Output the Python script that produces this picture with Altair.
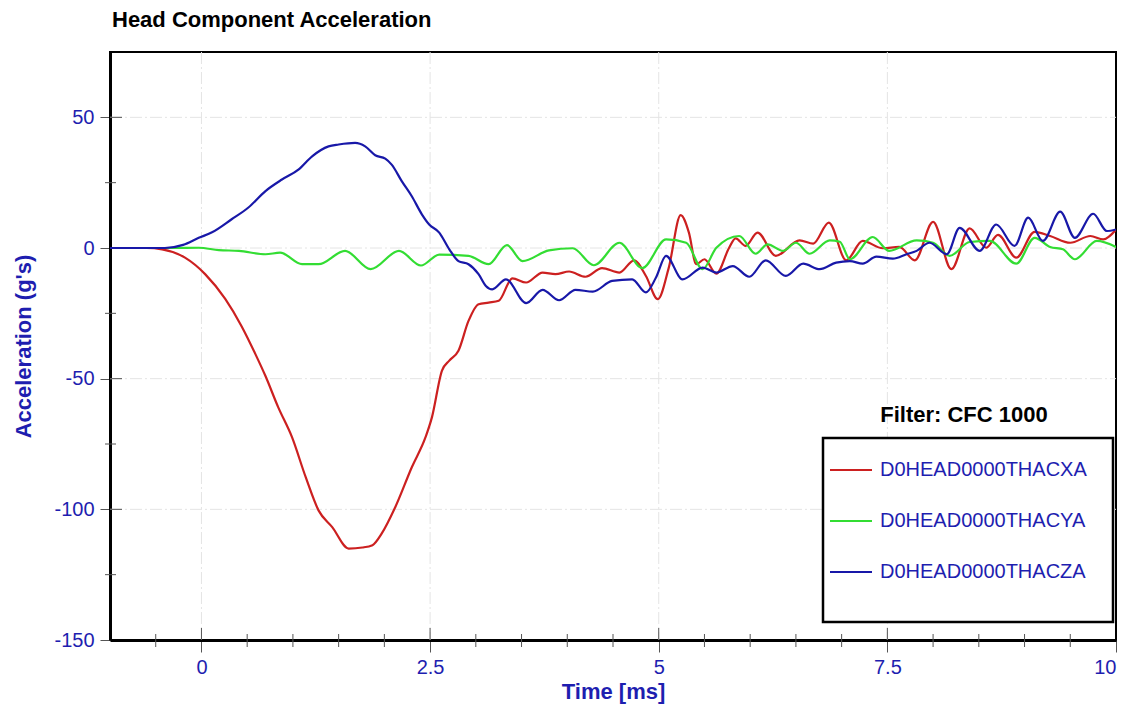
import altair as alt
import pandas as pd

# ---------------- data ----------------
SERIES = ["D0HEAD0000THACXA", "D0HEAD0000THACYA", "D0HEAD0000THACZA"]
COLORS = ["#cc2020", "#33dd33", "#1818a8"]

x_time = [-1.0, -0.6, -0.43, -0.18, 0.04, 0.26, 0.44, 0.59, 0.70, 0.84, 0.99, 1.14,
          1.28, 1.43, 1.61, 1.76, 1.87, 1.97, 2.12, 2.30, 2.45, 2.52, 2.63, 2.71,
          2.81, 2.92, 3.03, 3.14, 3.25, 3.40, 3.55, 3.73, 3.87, 4.02, 4.20, 4.38,
          4.57, 4.73, 4.86, 4.99, 5.11, 5.24, 5.33, 5.41, 5.50, 5.63, 5.77, 5.84,
          5.95, 6.08, 6.28, 6.54, 6.69, 6.86, 7.05, 7.23, 7.45, 7.63, 7.80, 8.00,
          8.20, 8.40, 8.58, 8.71, 8.91, 9.11, 9.28, 9.50, 9.72, 9.86, 10.0]
x_acc = [0, 0, -0.5, -3.7, -10, -19.5, -30, -40.6, -49.0, -61, -72.4, -87.7,
         -100.4, -106.8, -115, -114.6, -113.7, -109.3, -99.1, -83.9, -72.4, -64.8, -46.9, -43.1,
         -39.3, -27.9, -21.5, -20.9, -20.2, -11.6, -13.2, -9.4, -10, -9, -11, -7.7,
         -9.4, -4.7, -10.7, -19.6, -7.5, 12.6, 5.9, -6.2, -4.3, -9.8, 0.1, 3.7,
         0.8, 5.9, -3, 2.9, 1.7, 9.7, -4.7, 2.7, -0.1, 0.4, -4.7, 10,
         -8.1, 7.5, 0.1, 5, -3.7, 6.2, 4.6, 2, 4.6, 3.3, 7.1]

y_time = [-1.0, -0.3, -0.03, 0.19, 0.41, 0.70, 0.86, 1.10, 1.28, 1.57, 1.85, 2.16,
          2.40, 2.60, 2.92, 3.14, 3.34, 3.51, 3.80, 4.06, 4.29, 4.57, 4.82, 5.08,
          5.30, 5.48, 5.63, 5.88, 6.06, 6.19, 6.36, 6.50, 6.65, 6.87, 6.98, 7.09,
          7.34, 7.52, 7.82, 8.00, 8.18, 8.40, 8.62, 8.91, 9.11, 9.28, 9.42, 9.55,
          9.79, 10.0]
y_acc = [0, 0, 0.1, -0.8, -1.1, -2.4, -1.8, -6.2, -6.2, -1.1, -8.1, -1.1,
         -6.7, -2.5, -3, -6.2, 1.1, -5, -0.9, -0.1, -6.6, 2, -7.7, 3.3,
         2, -8.1, 0.1, 4.6, -2.2, 1.4, -1.1, 2, -2.2, 2.9, 2.4, -4.3,
         4.2, -1.1, 2.9, 2, -3, 2.3, 2.7, -6, 3.9, 0.4, -0.5, -4.3,
         2.7, 0.4]

z_time = [-1.0, -0.4, -0.2, -0.03, 0.11, 0.33, 0.51, 0.70, 0.88, 1.06, 1.21, 1.39,
          1.50, 1.68, 1.79, 1.90, 2.01, 2.08, 2.19, 2.30, 2.41, 2.49, 2.60, 2.71,
          2.81, 2.92, 3.03, 3.11, 3.18, 3.33, 3.55, 3.73, 3.91, 4.09, 4.28, 4.49,
          4.71, 4.86, 4.97, 5.08, 5.26, 5.48, 5.63, 5.81, 5.99, 6.17, 6.39, 6.58,
          6.76, 6.94, 7.09, 7.23, 7.38, 7.56, 7.71, 7.82, 7.96, 8.15, 8.29, 8.51,
          8.69, 8.89, 9.04, 9.20, 9.39, 9.55, 9.75, 9.90, 10.0]
z_acc = [0, 0, 1.2, 3.9, 5.9, 11, 15.4, 21.8, 26.2, 30, 35.1, 38.9,
         39.6, 40.2, 38.9, 35.5, 34.2, 31.9, 25.6, 19.8, 12.9, 9.0, 5.9, -0.5,
         -5, -6.2, -10, -14.5, -15.8, -12, -21.1, -16, -20, -16, -16.7, -12.6,
         -12, -17, -11.3, -3, -12, -7.5, -9.4, -6.9, -11, -4.7, -10.7, -6,
         -8.1, -5.6, -5, -6, -3.3, -4.1, -2.4, -1.1, 2, -2.4, 7.7, -1.1,
         9, 0.8, 11.6, 2.7, 13.9, 3.9, 13.1, 6.5, 7.1]

x_major_ticks = [0, 2.5, 5, 7.5, 10]
x_minor_ticks = [-0.5, 0.5, 1.0, 1.5, 2.0, 3.0, 3.5, 4.0, 4.5, 5.5, 6.0, 6.5,
                 7.0, 8.0, 8.5, 9.0, 9.5]
y_major_ticks = [50, 0, -50, -100, -150]
y_minor_ticks = [25, -25, -75, -125]
x_grid = [0, 2.5, 5, 7.5]
y_grid = [50, 0, -50, -100]

TITLE = "Head Component Acceleration"
X_TITLE = "Time [ms]"
Y_TITLE = "Acceleration (g's)"
FILTER_TEXT = "Filter: CFC 1000"

# ---------------- build tables ----------------
rows = []
for name, ts, vs in zip(SERIES, [x_time, y_time, z_time], [x_acc, y_acc, z_acc]):
    for i, (t, v) in enumerate(zip(ts, vs)):
        rows.append({"series": name, "time": t, "acc": v, "order": i})
df = pd.DataFrame(rows)

W, H = 1006, 588
FONT = "Liberation Sans"
TXT_BLUE = "#1e1eb0"
GRID = "#e4e4e4"

xscale = alt.Scale(domain=[-1, 10], nice=False, zero=False)
yscale = alt.Scale(domain=[-150, 75], nice=False, zero=False)

xgrid = alt.Chart(pd.DataFrame({"v": x_grid})).mark_rule(
    color=GRID, strokeWidth=1, strokeDash=[12, 3, 2, 3]).encode(
    x=alt.X("v:Q", scale=xscale), y=alt.value(0), y2=alt.value(H))
ygrid = alt.Chart(pd.DataFrame({"v": y_grid})).mark_rule(
    color=GRID, strokeWidth=1, strokeDash=[12, 3, 2, 3]).encode(
    y=alt.Y("v:Q", scale=yscale), x=alt.value(0), x2=alt.value(W))

lines = alt.Chart(df).mark_line(strokeWidth=2.2, clip=True, interpolate="monotone").encode(
    x=alt.X("time:Q", scale=xscale,
            axis=alt.Axis(title=X_TITLE, values=x_major_ticks, labelExpr="'' + datum.value",
                          tickSize=12, labelPadding=5, titlePadding=4, grid=False)),
    y=alt.Y("acc:Q", scale=yscale,
            axis=alt.Axis(title=Y_TITLE, values=y_major_ticks, labelExpr="'' + datum.value",
                          tickSize=10, labelPadding=6, titlePadding=18, grid=False)),
    color=alt.Color("series:N",
                    scale=alt.Scale(domain=SERIES, range=COLORS),
                    legend=alt.Legend(title=None, orient="none", legendX=719, legendY=396,
                                      symbolType="stroke", symbolSize=1764,
                                      symbolStrokeWidth=2, labelFontSize=20,
                                      labelColor=TXT_BLUE, labelFont=FONT,
                                      labelOffset=7, rowPadding=19, padding=0,
                                      labelLimit=400)),
    order="order:Q",
    detail="series:N",
)

box = alt.Chart(alt.Data(values=[{"k": 1}])).mark_rect(
    fill="white", stroke="black", strokeWidth=2.5
).encode(x=alt.value(713), x2=alt.value(1003), y=alt.value(386), y2=alt.value(570))

filter_text = alt.Chart(alt.Data(values=[{"t": FILTER_TEXT}])).mark_text(
    font=FONT, fontSize=22, fontWeight="bold", color="black", align="center",
    baseline="alphabetic"
).encode(text="t:N", x=alt.value(854), y=alt.value(370))

title_text = alt.Chart(alt.Data(values=[{"t": TITLE}])).mark_text(
    font=FONT, fontSize=22, fontWeight="bold", color="black", align="left",
    baseline="alphabetic"
).encode(text="t:N", x=alt.value(2), y=alt.value(-25))

xminor = alt.Chart(pd.DataFrame({"v": x_minor_ticks})).mark_rule(
    color="#555", strokeWidth=1).encode(x=alt.X("v:Q", scale=xscale),
                                         y=alt.value(H - 6), y2=alt.value(H + 7))
xmajor_in = alt.Chart(pd.DataFrame({"v": x_major_ticks[:-1]})).mark_rule(
    color="#555", strokeWidth=1).encode(x=alt.X("v:Q", scale=xscale),
                                         y=alt.value(H - 12), y2=alt.value(H))
yminor = alt.Chart(pd.DataFrame({"v": y_minor_ticks})).mark_rule(
    color="#555", strokeWidth=1).encode(y=alt.Y("v:Q", scale=yscale),
                                         x=alt.value(-5), x2=alt.value(6))
ymajor_in = alt.Chart(pd.DataFrame({"v": y_major_ticks[:-1]})).mark_rule(
    color="#555", strokeWidth=1).encode(y=alt.Y("v:Q", scale=yscale),
                                         x=alt.value(0), x2=alt.value(12))

chart = alt.layer(xgrid, ygrid, xminor, xmajor_in, yminor, ymajor_in, lines, box,
                  filter_text, title_text).properties(
    width=W, height=H,
    padding={"left": 102, "top": 44, "right": 10, "bottom": 68},
    autosize=alt.AutoSizeParams(type="none"),
).configure_view(
    stroke="black", strokeWidth=2
).configure_axis(
    labelFont=FONT, labelFontSize=20, labelColor=TXT_BLUE,
    titleFont=FONT, titleFontSize=22, titleFontWeight="bold", titleColor=TXT_BLUE,
    domainColor="black", domainWidth=3,
    tickColor="#555", tickWidth=1,
)

chart.save("out.html", embed_options={"renderer": "svg", "actions": False})
